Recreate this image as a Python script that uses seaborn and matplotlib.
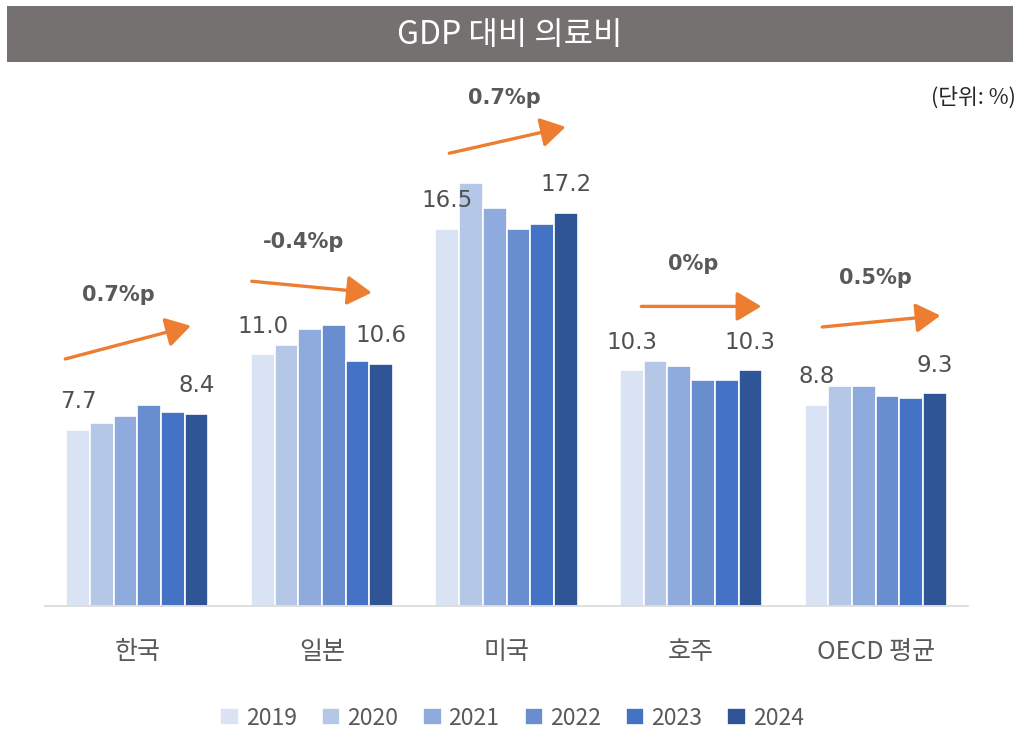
import pandas as pd
import numpy as np
import matplotlib
matplotlib.use('Agg')
import matplotlib.pyplot as plt
import seaborn as sns
from matplotlib.patches import Rectangle

# 데이터
countries = ['한국', '일본', '미국', '호주', 'OECD 평균']
years = ['2019', '2020', '2021', '2022', '2023', '2024']
v2019 = [7.7, 11.0, 16.5, 10.3, 8.8]
v2020 = [8.0, 11.4, 18.5, 10.7, 9.6]
v2021 = [8.3, 12.1, 17.4, 10.5, 9.6]
v2022 = [8.8, 12.3, 16.5, 9.9, 9.2]
v2023 = [8.5, 10.7, 16.7, 9.9, 9.1]
v2024 = [8.4, 10.6, 17.2, 10.3, 9.3]
change_labels = ['0.7%p', '-0.4%p', '0.7%p', '0%p', '0.5%p']
colors = ['#DAE3F3', '#B4C7E7', '#8FAADC', '#698ED0', '#4472C4', '#2F5597']

series = [v2019, v2020, v2021, v2022, v2023, v2024]
rows = []
for y, vals in zip(years, series):
    for c, v in zip(countries, vals):
        rows.append({'country': c, 'year': y, 'value': v})
df = pd.DataFrame(rows)

sns.set_theme(style='white')
plt.rcParams['font.family'] = ['Noto Sans CJK KR', 'DejaVu Sans']

fig = plt.figure(figsize=(10.2, 7.3), dpi=100)
ax = fig.add_axes([0.0441, 0.170, 0.905, 0.689])

sns.barplot(data=df, x='country', y='value', hue='year', palette=colors, saturation=1,
            width=0.77, edgecolor='white', linewidth=1.2, ax=ax, legend=True)

ax.set_ylim(0, 22)
ax.set_xlim(-0.5, 4.5)
ax.set_xlabel('')
ax.set_ylabel('')
ax.set_yticks([])
for s in ['top', 'right', 'left']:
    ax.spines[s].set_visible(False)
ax.spines['bottom'].set_color('#D9D9D9')
ax.spines['bottom'].set_linewidth(1.2)
ax.tick_params(axis='x', length=0, pad=24, labelsize=18, labelcolor='#595959')

# 2019, 2024 값 표시
first = ax.containers[0]
last = ax.containers[-1]
for bars, vals in [(first, v2019), (last, v2024)]:
    for b, v in zip(bars, vals):
        ax.annotate(f'{v:.1f}', (b.get_x() + b.get_width() / 2, b.get_height()),
                    xytext=(0, 12), textcoords='offset points', ha='center', va='bottom',
                    fontsize=16.5, color='#505050', family=['DejaVu Sans'])

# 증감 화살표
arrow_start = [(-0.39, 10.8), (-0.38, 14.2), (-0.31, 19.8), (-0.27, 13.1), (-0.29, 12.2)]
arrow_end = [(0.29, 12.25), (0.27, 13.7), (0.32, 20.95), (0.38, 13.1), (0.35, 12.7)]
label_pos = [(-0.1, 13.6), (-0.1, 15.9), (-0.01, 22.2), (0.01, 14.95), (0.0, 14.35)]
for i, lab in enumerate(change_labels):
    (sx, sy), (ex, ey), (tx, ty) = arrow_start[i], arrow_end[i], label_pos[i]
    ax.annotate('', xy=(i + ex, ey), xytext=(i + sx, sy),
                arrowprops=dict(arrowstyle='-|>,head_length=0.75,head_width=0.45',
                                color='#ED7D31', lw=2.4, mutation_scale=20,
                                shrinkA=0, shrinkB=0),
                annotation_clip=False)
    ax.text(i + tx, ty, lab, ha='center', va='center', fontsize=15,
            fontweight='bold', color='#595959', family=['DejaVu Sans'], clip_on=False)

# 범례
handles, labels = ax.get_legend_handles_labels()
ax.legend_.remove()
fig.legend(handles, labels, loc='center', bbox_to_anchor=(0.502, 0.0164), ncol=6,
           frameon=False, fontsize=16.5, handlelength=0.8, handleheight=0.8,
           handletextpad=0.3, columnspacing=1.1, labelcolor='#595959')

# 제목 바
fig.patches.append(Rectangle((0.0069, 0.915), 0.986, 0.0767, transform=fig.transFigure,
                             facecolor='#767171', edgecolor='none', zorder=0))
fig.text(0.5, 0.952, 'GDP 대비 의료비', ha='center', va='center', fontsize=23,
         fontweight='medium', color='white')
fig.text(0.996, 0.866, '(단위: %)', ha='right', va='center', fontsize=15.5, color='#262626')

fig.savefig('out.png', dpi=100)
